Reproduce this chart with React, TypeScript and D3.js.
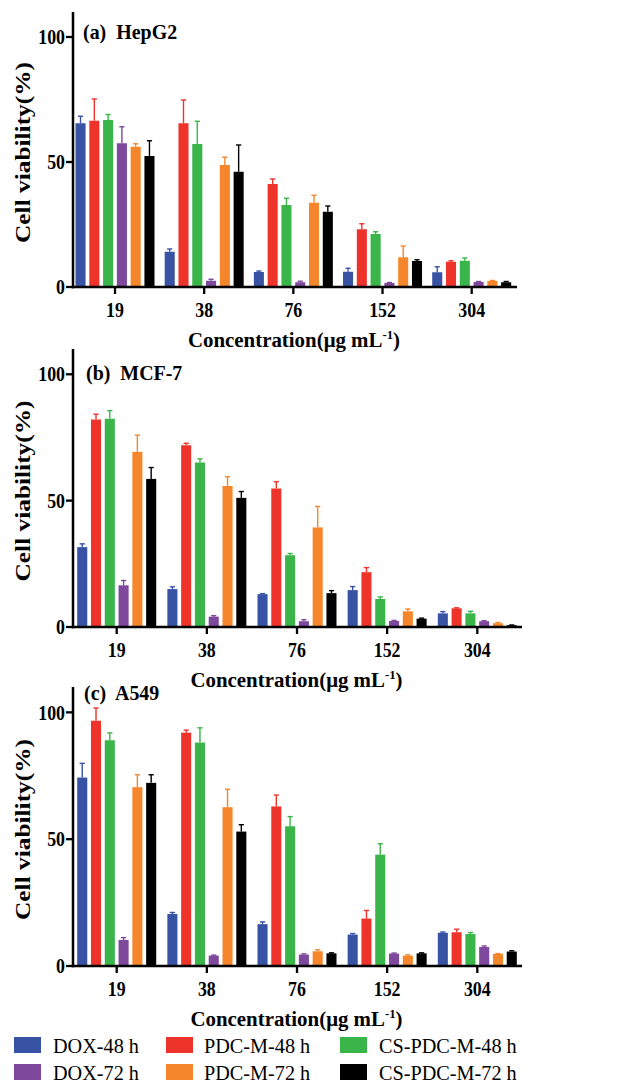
import React from "react";
import * as d3 from "d3";

const concentrations = ["19", "38", "76", "152", "304"];
const seriesNames = ["DOX-48 h", "PDC-M-48 h", "CS-PDC-M-48 h", "DOX-72 h", "PDC-M-72 h", "CS-PDC-M-72 h"];
const seriesColors = ["#3953a4", "#ee332b", "#3ab54a", "#7e489c", "#f6862b", "#000000"];
// bar order inside each group
const barOrder = [0, 1, 2, 3, 4, 5];
const yTicks = [0, 50, 100];

// values: one row per series (same order as seriesNames), one column per concentration
const hepg2Mean = [
  [65.5, 14.1, 6.0, 6.1, 5.9],
  [66.5, 65.5, 41.2, 23.1, 10.1],
  [66.8, 57.2, 32.8, 21.2, 10.5],
  [57.5, 2.5, 1.9, 1.6, 2.0],
  [56.1, 48.8, 33.7, 11.9, 2.4],
  [52.4, 46.1, 30.1, 10.4, 1.9],
];
const hepg2Err = [
  [2.8, 1.1, 0.4, 1.4, 2.2],
  [8.7, 9.3, 2.0, 2.2, 0.4],
  [2.2, 9.1, 2.7, 0.9, 1.1],
  [6.6, 0.6, 0.4, 0.2, 0.2],
  [1.2, 3.1, 3.0, 4.5, 0.2],
  [6.1, 10.7, 2.3, 0.5, 0.3],
];
const mcf7Mean = [
  [31.6, 15.0, 13.0, 14.6, 5.4],
  [82.1, 71.9, 54.8, 21.7, 7.4],
  [82.4, 65.1, 28.4, 11.1, 5.4],
  [16.5, 4.1, 2.3, 2.4, 2.3],
  [69.3, 55.8, 39.4, 6.2, 1.5],
  [58.6, 51.1, 13.4, 3.3, 0.7],
];
const mcf7Err = [
  [1.3, 0.9, 0.2, 1.4, 0.7],
  [2.1, 0.8, 2.7, 1.8, 0.2],
  [3.2, 1.4, 0.7, 0.8, 0.8],
  [1.9, 0.4, 0.6, 0.2, 0.2],
  [6.6, 3.7, 8.3, 0.9, 0.3],
  [4.5, 2.5, 1.0, 0.2, 0.1],
];
const a549Mean = [
  [74.3, 20.5, 16.5, 12.4, 13.1],
  [96.7, 92.0, 62.9, 18.7, 13.3],
  [89.0, 88.1, 55.1, 43.9, 12.6],
  [10.3, 4.1, 4.5, 4.9, 7.5],
  [70.5, 62.6, 5.8, 4.1, 4.8],
  [72.2, 53.0, 5.0, 5.0, 5.7],
];
const a549Err = [
  [5.6, 0.6, 0.9, 0.4, 0.3],
  [5.0, 1.0, 4.5, 3.2, 1.2],
  [2.9, 5.8, 3.8, 4.3, 0.6],
  [0.9, 0.2, 0.3, 0.2, 0.4],
  [4.9, 7.1, 0.6, 0.3, 0.1],
  [3.2, 2.7, 0.2, 0.2, 0.3],
];

const panelTitles = ["(a)  HepG2", "(b)  MCF-7", "(c)  A549"];
const panelMeans = [hepg2Mean, mcf7Mean, a549Mean];
const panelErrs = [hepg2Err, mcf7Err, a549Err];

const FONT = "'Liberation Serif', 'Times New Roman', serif";

type PanelGeom = {
  zeroY: number;
  topY: number;
  firstCenter: number;
  lastCenter: number;
  axisEnd: number;
  titleX: number;
  titleY: number;
};

const geoms: PanelGeom[] = [
  { zeroY: 287, topY: 12, firstCenter: 115, lastCenter: 471.7, axisEnd: 517, titleX: 83, titleY: 39 },
  { zeroY: 627, topY: 349, firstCenter: 116.7, lastCenter: 477.3, axisEnd: 522, titleX: 86, titleY: 380 },
  { zeroY: 966, topY: 687, firstCenter: 116.7, lastCenter: 477.3, axisEnd: 522, titleX: 84, titleY: 700 },
];

const AXIS_X = 73;
const TICK_SX = 0.87;

function Panel({ idx }: { idx: number }) {
  const g = geoms[idx];
  const means = panelMeans[idx];
  const errs = panelErrs[idx];
  const y = d3.scaleLinear().domain([0, 110]).range([g.zeroY, g.topY]);
  const x = d3.scalePoint<string>().domain(concentrations).range([g.firstCenter, g.lastCenter]);
  const inner = d3
    .scaleBand<number>()
    .domain(barOrder)
    .range([-39.5, 39.5])
    .paddingInner(0.27);
  const bw = inner.bandwidth();
  const midY = (g.zeroY + g.topY) / 2 + 3;
  const axisMidX = (AXIS_X + g.axisEnd) / 2 - 1;

  return (
    <g>
      {/* bars */}
      {barOrder.map((s) =>
        concentrations.map((c, ci) => {
          const v = means[s][ci];
          const e = errs[s][ci];
          const bx = (x(c) as number) + (inner(s) as number);
          const cx = bx + bw / 2;
          return (
            <g key={`${s}-${c}`}>
              <rect
                x={bx}
                y={y(v)}
                width={bw}
                height={g.zeroY - y(v)}
                fill={seriesColors[s]}
              />
              {e > 0 && (
                <g stroke={seriesColors[s]} strokeWidth={1.4}>
                  <line x1={cx} x2={cx} y1={y(v)} y2={y(v + e)} />
                  <line x1={cx - 2.6} x2={cx + 2.6} y1={y(v + e)} y2={y(v + e)} />
                </g>
              )}
            </g>
          );
        })
      )}
      {/* y axis */}
      <line x1={AXIS_X} x2={AXIS_X} y1={g.topY} y2={g.zeroY + 1.2} stroke="#000" strokeWidth={2.5} />
      {yTicks.map((t) => (
        <g key={t}>
          <line x1={AXIS_X - 7} x2={AXIS_X} y1={y(t)} y2={y(t)} stroke="#000" strokeWidth={2.3} />
          <text
            transform={`translate(65,${y(t) + 7.2}) scale(${TICK_SX},1)`}
            textAnchor="end"
            fontFamily={FONT}
            fontWeight="bold"
            fontSize={20.5}
          >
            {t}
          </text>
        </g>
      ))}
      {/* x axis */}
      <line x1={AXIS_X - 1.2} x2={g.axisEnd} y1={g.zeroY} y2={g.zeroY} stroke="#000" strokeWidth={2.5} />
      {concentrations.map((c) => (
        <g key={c}>
          <line
            x1={x(c) as number}
            x2={x(c) as number}
            y1={g.zeroY}
            y2={g.zeroY + 7}
            stroke="#000"
            strokeWidth={2.3}
          />
          <text
            transform={`translate(${x(c) as number},${g.zeroY + 30}) scale(${TICK_SX},1)`}
            textAnchor="middle"
            fontFamily={FONT}
            fontWeight="bold"
            fontSize={20.5}
          >
            {c}
          </text>
        </g>
      ))}
      {/* axis titles */}
      <text
        transform={`translate(${axisMidX},${g.zeroY + 60}) scale(0.95,1)`}
        textAnchor="middle"
        fontFamily={FONT}
        fontWeight="bold"
        fontSize={22}
      >
        Concentration(μg mL
        <tspan dy={-8} fontSize={13.5}>-1</tspan>
        <tspan dy={8}>)</tspan>
      </text>
      <text
        transform={`translate(30,${midY}) rotate(-90)`}
        textAnchor="middle"
        fontFamily={FONT}
        fontWeight="bold"
        fontSize={22}
        textLength={181}
        lengthAdjust="spacingAndGlyphs"
      >
        Cell viability(%)
      </text>
      <text
        transform={`translate(${g.titleX},${g.titleY}) scale(0.95,1)`}
        fontFamily={FONT}
        fontWeight="bold"
        fontSize={21}
        style={{ whiteSpace: "pre" }}
      >
        {panelTitles[idx]}
      </text>
    </g>
  );
}

const legendCols = [
  { sx: 14, tx: 53 },
  { sx: 166, tx: 204 },
  { sx: 340, tx: 379 },
];
const legendRows = [1037, 1064];

export default function App() {
  return (
    <svg
      width={618}
      height={1084}
      viewBox="0 0 618 1084"
      style={{ position: "absolute", left: 0, top: 0, background: "#fff" }}
    >
      <rect width={618} height={1084} fill="#fff" />
      {[0, 1, 2].map((i) => (
        <Panel key={i} idx={i} />
      ))}
      {seriesNames.map((name, s) => {
        const col = legendCols[s % 3];
        const rowY = legendRows[Math.floor(s / 3)];
        return (
          <g key={name}>
            <rect x={col.sx} y={rowY} width={27} height={16} fill={seriesColors[s]} />
            <text
              transform={`translate(${col.tx},${rowY + 15.5}) scale(0.92,1)`}
              fontFamily={FONT}
              fontSize={22}
            >
              {name}
            </text>
          </g>
        );
      })}
    </svg>
  );
}
